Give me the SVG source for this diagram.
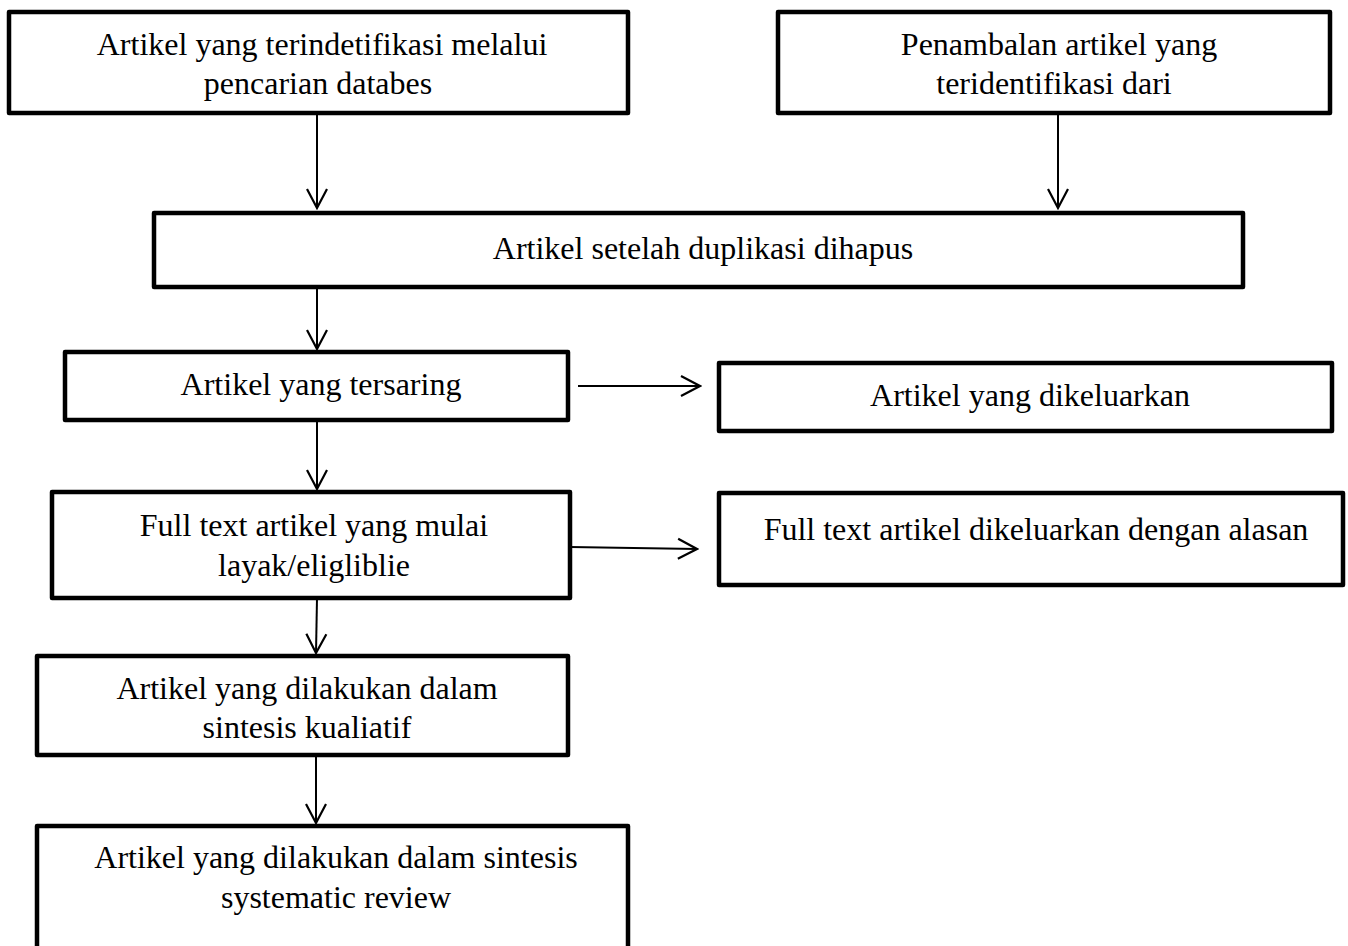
<svg xmlns="http://www.w3.org/2000/svg" width="1348" height="946" viewBox="0 0 1348 946">
<style>
.box{fill:#fff;stroke:#000;stroke-width:4.5;stroke-linejoin:round}
.t{font-family:"Liberation Serif","Times New Roman",serif;font-size:32px;fill:#000;text-anchor:middle}
.c{fill:none;stroke:#000;stroke-width:2}
</style>
<defs>
<marker id="ah" markerUnits="userSpaceOnUse" markerWidth="24" markerHeight="24" viewBox="-22 -12 24 24" refX="0" refY="0" orient="auto">
<path d="M-19,-10 L0,0 L-19,10" fill="none" stroke="#000" stroke-width="2.2"/>
</marker>
</defs>
<rect width="1348" height="946" fill="#fff"/>
<g id="connectors">
<line class="c" x1="317" y1="113" x2="317" y2="208" marker-end="url(#ah)"/>
<line class="c" x1="1058" y1="113" x2="1058" y2="208" marker-end="url(#ah)"/>
<line class="c" x1="317" y1="287" x2="317" y2="349" marker-end="url(#ah)"/>
<line class="c" x1="578" y1="386" x2="700" y2="386" marker-end="url(#ah)"/>
<line class="c" x1="317" y1="420" x2="317" y2="489" marker-end="url(#ah)"/>
<line class="c" x1="570" y1="547" x2="697" y2="549" marker-end="url(#ah)"/>
<line class="c" x1="317" y1="598" x2="316" y2="653" marker-end="url(#ah)"/>
<line class="c" x1="316" y1="755" x2="316" y2="823" marker-end="url(#ah)"/>
</g>
<g id="n1"><rect class="box" x="9" y="12" width="619" height="101"/><text class="t" x="322" y="55">Artikel yang terindetifikasi melalui</text><text class="t" x="318" y="94">pencarian databes</text></g>
<g id="n2"><rect class="box" x="778" y="12" width="552" height="101"/><text class="t" x="1059" y="55">Penambalan artikel yang</text><text class="t" x="1054" y="94">teridentifikasi dari</text></g>
<g id="n3"><rect class="box" x="154" y="213" width="1089" height="74"/><text class="t" x="703" y="259">Artikel setelah duplikasi dihapus</text></g>
<g id="n4"><rect class="box" x="65" y="352" width="503" height="68"/><text class="t" x="321" y="395">Artikel yang tersaring</text></g>
<g id="n5"><rect class="box" x="719" y="363" width="613" height="68"/><text class="t" x="1030" y="406">Artikel yang dikeluarkan</text></g>
<g id="n6"><rect class="box" x="52" y="492" width="518" height="106"/><text class="t" x="314" y="536">Full text artikel yang mulai</text><text class="t" x="314" y="576">layak/eligliblie</text></g>
<g id="n7"><rect class="box" x="719" y="493" width="624" height="92"/><text class="t" x="1036" y="540">Full text artikel dikeluarkan dengan alasan</text></g>
<g id="n8"><rect class="box" x="37" y="656" width="531" height="99"/><text class="t" x="307" y="699">Artikel yang dilakukan dalam</text><text class="t" x="307" y="738">sintesis kualiatif</text></g>
<g id="n9"><rect class="box" x="37" y="826" width="591" height="140"/><text class="t" x="336" y="868">Artikel yang dilakukan dalam sintesis</text><text class="t" x="336" y="908">systematic review</text></g>
</svg>
